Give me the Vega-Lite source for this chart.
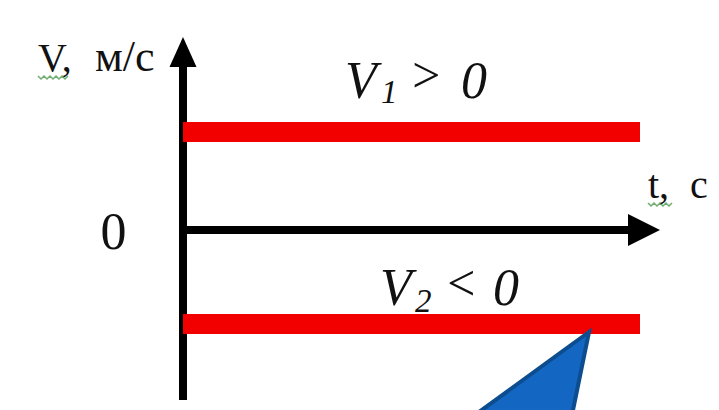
{
  "$schema": "https://vega.github.io/schema/vega-lite/v6.json",
  "width": 719,
  "height": 410,
  "padding": 0,
  "autosize": {"type": "fit", "contains": "padding"},
  "background": "white",
  "config": {"view": {"stroke": null}},
  "datasets": {
    "axes": [
      {"name": "v-axis", "t1": 0, "t2": 0, "v1": -17, "v2": 17.5},
      {"name": "t-axis", "t1": 0, "t2": 44.8, "v1": 0, "v2": 0}
    ],
    "upHead": [{"t": 0, "v": 17.8}],
    "rightHead": [{"t": 46.1, "v": 0}],
    "bars": [
      {"name": "V1", "t1": 0, "t2": 45.7, "v": 9.8},
      {"name": "V2", "t1": 0, "t2": 45.7, "v": -9.4}
    ],
    "pointer": [
      {"t": 28.5, "vtop": -19, "vbot": -19},
      {"t": 38.8, "vtop": -11.5, "vbot": -19},
      {"t": 40.6, "vtop": -10.2, "vbot": -10.2}
    ],
    "yLabelV": [{"t": -14.5, "v": 15.9, "label": "V,"}],
    "yLabelUnit": [{"t": -8.8, "v": 15.9, "label": "м/с"}],
    "bigItalic": [
      {"t": 16.2, "v": 13.2, "label": "V"},
      {"t": 27.8, "v": 13.2, "label": "0"},
      {"t": 19.7, "v": -7.5, "label": "V"},
      {"t": 31.0, "v": -7.5, "label": "0"}
    ],
    "subs": [
      {"t": 19.8, "v": 12.7, "label": "1"},
      {"t": 23.2, "v": -8.2, "label": "2"}
    ],
    "rels": [
      {"t": 22.6, "v": 13.8, "label": ">"},
      {"t": 26.1, "v": -7.0, "label": "<"}
    ],
    "zero": [{"t": -6.95, "v": -1.9, "label": "0"}],
    "tLabel": [
      {"t": 46.5, "v": 3.2, "label": "t,"},
      {"t": 50.7, "v": 3.2, "label": "с"}
    ],
    "wavy": [
      {"g": "a", "t": -14.5, "v": 15.4}, {"g": "a", "t": -14.2, "v": 15.1},
      {"g": "a", "t": -13.9, "v": 15.4}, {"g": "a", "t": -13.6, "v": 15.1},
      {"g": "a", "t": -13.3, "v": 15.4}, {"g": "a", "t": -13.0, "v": 15.1},
      {"g": "a", "t": -12.7, "v": 15.4}, {"g": "a", "t": -12.4, "v": 15.1},
      {"g": "a", "t": -12.1, "v": 15.4}, {"g": "a", "t": -11.8, "v": 15.1},
      {"g": "a", "t": -11.5, "v": 15.4},
      {"g": "b", "t": 46.5, "v": 2.7}, {"g": "b", "t": 46.8, "v": 2.4},
      {"g": "b", "t": 47.1, "v": 2.7}, {"g": "b", "t": 47.4, "v": 2.4},
      {"g": "b", "t": 47.7, "v": 2.7}, {"g": "b", "t": 48.0, "v": 2.4},
      {"g": "b", "t": 48.3, "v": 2.7}, {"g": "b", "t": 48.6, "v": 2.4},
      {"g": "b", "t": 48.9, "v": 2.7}
    ]
  },
  "layer": [
    {
      "data": {"name": "axes"},
      "mark": {"type": "rule", "color": "black", "strokeWidth": 8},
      "encoding": {
        "x": {"field": "t1", "type": "quantitative", "scale": {"domain": [-18.3, 53.6], "nice": false, "zero": false}, "axis": null},
        "x2": {"field": "t2"},
        "y": {"field": "v1", "type": "quantitative", "scale": {"domain": [-18, 23], "nice": false, "zero": false}, "axis": null},
        "y2": {"field": "v2"}
      }
    },
    {
      "data": {"name": "upHead"},
      "mark": {"type": "point", "shape": "M0,-1L0.9,1L-0.9,1Z", "size": 900, "filled": true, "color": "black", "opacity": 1},
      "encoding": {
        "x": {"field": "t", "type": "quantitative", "axis": null},
        "y": {"field": "v", "type": "quantitative", "axis": null}
      }
    },
    {
      "data": {"name": "rightHead"},
      "mark": {"type": "point", "shape": "M1,0L-1,-1L-1,1Z", "size": 1024, "filled": true, "color": "black", "opacity": 1},
      "encoding": {
        "x": {"field": "t", "type": "quantitative", "axis": null},
        "y": {"field": "v", "type": "quantitative", "axis": null}
      }
    },
    {
      "data": {"name": "bars"},
      "mark": {"type": "rule", "color": "#f20000", "strokeWidth": 20, "strokeCap": "butt"},
      "encoding": {
        "x": {"field": "t1", "type": "quantitative", "axis": null},
        "x2": {"field": "t2"},
        "y": {"field": "v", "type": "quantitative", "axis": null}
      }
    },
    {
      "data": {"name": "pointer"},
      "mark": {"type": "area", "color": "#1366c2", "fill": "#1366c2", "stroke": "#0c4d8f", "strokeWidth": 4, "strokeJoin": "miter", "opacity": 1, "fillOpacity": 1, "clip": true},
      "encoding": {
        "x": {"field": "t", "type": "quantitative", "axis": null},
        "y": {"field": "vtop", "type": "quantitative", "axis": null},
        "y2": {"field": "vbot"}
      }
    },
    {
      "data": {"name": "wavy"},
      "mark": {"type": "line", "color": "#6fae6f", "strokeWidth": 1.5},
      "encoding": {
        "x": {"field": "t", "type": "quantitative", "axis": null},
        "y": {"field": "v", "type": "quantitative", "axis": null},
        "detail": {"field": "g"}
      }
    },
    {
      "data": {"name": "yLabelV"},
      "mark": {"type": "text", "font": "Liberation Serif", "fontSize": 40, "align": "left", "baseline": "alphabetic", "color": "#111111"},
      "encoding": {
        "x": {"field": "t", "type": "quantitative", "axis": null},
        "y": {"field": "v", "type": "quantitative", "axis": null},
        "text": {"field": "label"}
      }
    },
    {
      "data": {"name": "yLabelUnit"},
      "mark": {"type": "text", "font": "Liberation Serif", "fontSize": 44, "align": "left", "baseline": "alphabetic", "color": "#111111"},
      "encoding": {
        "x": {"field": "t", "type": "quantitative", "axis": null},
        "y": {"field": "v", "type": "quantitative", "axis": null},
        "text": {"field": "label"}
      }
    },
    {
      "data": {"name": "bigItalic"},
      "mark": {"type": "text", "font": "Liberation Serif", "fontStyle": "italic", "fontSize": 52, "align": "left", "baseline": "alphabetic", "color": "#111111"},
      "encoding": {
        "x": {"field": "t", "type": "quantitative", "axis": null},
        "y": {"field": "v", "type": "quantitative", "axis": null},
        "text": {"field": "label"}
      }
    },
    {
      "data": {"name": "subs"},
      "mark": {"type": "text", "font": "Liberation Serif", "fontStyle": "italic", "fontSize": 33, "align": "left", "baseline": "alphabetic", "color": "#111111"},
      "encoding": {
        "x": {"field": "t", "type": "quantitative", "axis": null},
        "y": {"field": "v", "type": "quantitative", "axis": null},
        "text": {"field": "label"}
      }
    },
    {
      "data": {"name": "rels"},
      "mark": {"type": "text", "font": "Liberation Serif", "fontStyle": "italic", "fontSize": 50, "align": "left", "baseline": "alphabetic", "color": "#111111"},
      "encoding": {
        "x": {"field": "t", "type": "quantitative", "axis": null},
        "y": {"field": "v", "type": "quantitative", "axis": null},
        "text": {"field": "label"}
      }
    },
    {
      "data": {"name": "zero"},
      "mark": {"type": "text", "font": "Liberation Serif", "fontSize": 52, "align": "center", "baseline": "alphabetic", "color": "#111111"},
      "encoding": {
        "x": {"field": "t", "type": "quantitative", "axis": null},
        "y": {"field": "v", "type": "quantitative", "axis": null},
        "text": {"field": "label"}
      }
    },
    {
      "data": {"name": "tLabel"},
      "mark": {"type": "text", "font": "Liberation Serif", "fontSize": 40, "align": "left", "baseline": "alphabetic", "color": "#111111"},
      "encoding": {
        "x": {"field": "t", "type": "quantitative", "axis": null},
        "y": {"field": "v", "type": "quantitative", "axis": null},
        "text": {"field": "label"}
      }
    }
  ]
}
